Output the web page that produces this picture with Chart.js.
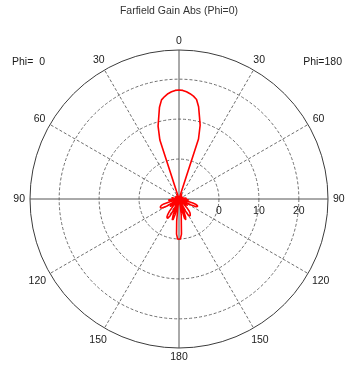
<!DOCTYPE html>
<html>
<head>
<meta charset="utf-8">
<script src="https://cdn.jsdelivr.net/npm/chart.js@4/dist/chart.umd.min.js"></script>
<style>
  html, body { margin: 0; padding: 0; background: #ffffff; }
  #wrap { width: 352px; height: 369px; }
</style>
</head>
<body>
<div id="wrap"><canvas id="farfield" width="352" height="369"></canvas></div>
<script>
// Farfield gain (dB) cut, theta sampled every 2 degrees from 0 to 180.
const thetaStepDeg = 2;

// Phi = 180 half of the cut (drawn clockwise on the right side).
const gainPhi180 = [
  17.3, 17.2, 16.9, 16.5, 16.0, 15.3, 13.6, 11.2, 9.2, 5.8,
  -10, -10, -10, -9.0, -8.6, -9.2, -10, -10, -10, -10,
  -9.4, -9.0, -9.6, -10, -10, -10, -10, -9.6, -9.2, -9.6,
  -10, -10, -10, -10, -9.4, -9.0, -9.4, -10, -10, -10,
  -9.2, -8.4, -8.2, -9.0, -10, -10, -10, -8.6, -7.6, -7.8,
  -9.0, -10, -8.4, -6.4, -5.5, -5.1, -5.0, -5.3, -6.6, -10,
  -10, -10, -8.4, -7.4, -7.6, -10, -10, -10, -8.6, -7.0,
  -6.0, -5.5, -5.2, -5.0, -5.0, -5.3, -6.6, -10, -10, -7.0,
  -5.2, -4.6, -5.0, -7.4, -10, -8.0, -6.0, -4.5, -1.2, 0.0,
  0.1
];

// Phi = 0 half of the cut (drawn on the left side).
const gainPhi0 = [
  17.3, 17.2, 16.9, 16.5, 15.9, 15.2, 13.5, 11.0, 9.0, 5.5,
  -10, -10, -10, -9.2, -8.8, -9.4, -10, -10, -10, -9.6,
  -9.2, -9.4, -10, -10, -10, -10, -9.4, -9.0, -9.4, -10,
  -10, -10, -10, -9.6, -9.2, -9.6, -10, -10, -10, -9.0,
  -8.2, -8.4, -9.6, -10, -10, -10, -8.8, -7.8, -7.4, -8.2,
  -10, -10, -10, -7.8, -6.0, -5.3, -5.0, -4.9, -4.9, -5.2,
  -6.4, -10, -10, -10, -8.2, -7.2, -7.4, -9.2, -10, -10,
  -8.0, -6.2, -5.2, -4.6, -4.4, -4.5, -5.2, -7.0, -10, -10,
  -5.8, -4.6, -4.7, -6.0, -10, -10, -8.0, -4.5, -1.2, 0.0,
  0.1
];

// Radial (gain) axis: centre, labelled rings and outer rim.
const gainMin = -10;
const gainMax = 27.3;
const gainRings = [-10, 0, 10, 20, 27.3];
const gainRingLabels = [0, 10, 20];

// Theta labels clockwise from the top, every 30 degrees.
const thetaTickLabels = ['0', '30', '60', '90', '120', '150', '180', '150', '120', '90', '60', '30'];
const thetaTickStepDeg = 30;

const title = 'Farfield Gain Abs (Phi=0)';
const leftCutLabel = 'Phi=  0';
const rightCutLabel = 'Phi=180';

// Build the full circle: 0..180 clockwise is the Phi=180 half, the rest is Phi=0.
const circleLabels = [];
const circleGain = [];
for (let deg = 0; deg < 360; deg += thetaStepDeg) {
  circleLabels.push(String(deg));
  if (deg <= 180) {
    circleGain.push(gainPhi180[deg / thetaStepDeg]);
  } else {
    circleGain.push(gainPhi0[(360 - deg) / thetaStepDeg]);
  }
}

const spokeEvery = thetaTickStepDeg / thetaStepDeg;
const axisEvery = 90 / thetaStepDeg;
const FONT = '"Liberation Sans", Arial, sans-serif';

const labelPlugin = {
  id: 'polarLabels',
  afterDraw(chart) {
    const scale = chart.scales.r;
    const ctx = chart.ctx;
    const outer = scale.getDistanceFromCenterForValue(scale.max);
    ctx.save();
    ctx.font = '10.5px ' + FONT;
    ctx.fillStyle = '#1a1a1a';
    ctx.textAlign = 'center';
    ctx.textBaseline = 'middle';

    // theta labels around the rim
    thetaTickLabels.forEach((txt, i) => {
      const idx = i * spokeEvery;
      const a = scale.getIndexAngle(idx) - Math.PI / 2;
      const w = ctx.measureText(txt).width;
      const h = 8;
      const ext = Math.abs(Math.cos(a)) * w / 2 + Math.abs(Math.sin(a)) * h / 2;
      const p = scale.getPointPosition(idx, outer + 5 + ext);
      ctx.fillText(txt, p.x, p.y + 0.5);
    });

    // gain ring labels just under the right-hand horizontal axis
    gainRingLabels.forEach((v) => {
      const p = scale.getPointPosition(axisEvery, scale.getDistanceFromCenterForValue(v));
      ctx.fillText(String(v), p.x, p.y + 12);
    });

    // cut names in the upper corners
    ctx.textAlign = 'left';
    ctx.fillText(leftCutLabel, 12, 62);
    ctx.textAlign = 'right';
    ctx.fillText(rightCutLabel, 342, 62);
    ctx.restore();
  }
};

new Chart(document.getElementById('farfield'), {
  type: 'radar',
  data: {
    labels: circleLabels,
    datasets: [{
      data: circleGain,
      borderColor: '#ff0000',
      borderWidth: 1.6,
      borderJoinStyle: 'round',
      fill: false,
      pointRadius: 0,
      pointHoverRadius: 0,
      tension: 0
    }]
  },
  options: {
    responsive: false,
    animation: false,
    layout: { padding: { left: 30, right: 24, top: 0, bottom: 21 } },
    plugins: {
      legend: { display: false },
      tooltip: { enabled: false },
      title: {
        display: true,
        text: title,
        color: '#333333',
        font: { family: FONT, size: 10.5, weight: 'normal' },
        padding: { top: 5, bottom: 32.4 }
      }
    },
    scales: {
      r: {
        min: gainMin,
        max: gainMax,
        startAngle: 0,
        afterBuildTicks: (s) => { s.ticks = gainRings.map(v => ({ value: v })); },
        ticks: { display: false },
        pointLabels: { display: false },
        grid: {
          circular: true,
          color: (c) => (c.tick && c.tick.value >= gainMax) ? '#3c3c3c' : '#6e6e6e',
          lineWidth: (c) => (c.tick && c.tick.value <= gainMin) ? 0 : 1
        },
        border: {
          dash: (c) => (c.tick && c.tick.value >= gainMax) ? [] : [3, 2]
        },
        angleLines: {
          display: true,
          color: (c) => (c.index % axisEvery === 0) ? '#555555' : '#6e6e6e',
          lineWidth: (c) => (c.index % spokeEvery === 0) ? 1 : 0,
          borderDash: (c) => (c.index % axisEvery === 0) ? [] : [3, 2]
        }
      }
    }
  },
  plugins: [labelPlugin]
});
</script>
</body>
</html>
